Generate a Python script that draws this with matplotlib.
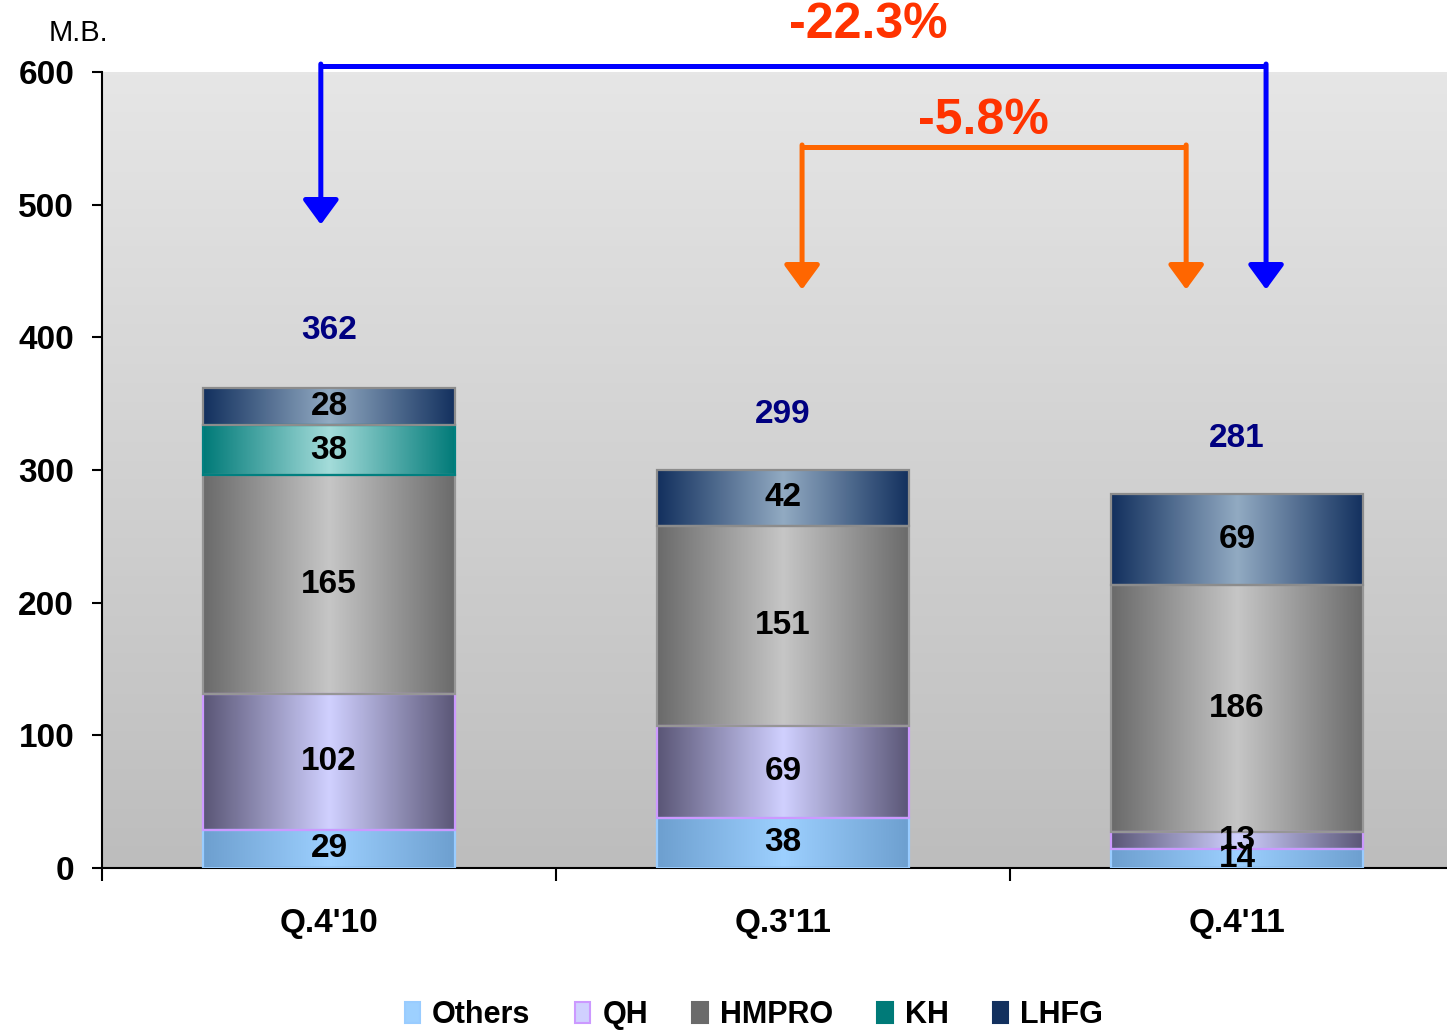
import numpy as np
import matplotlib
matplotlib.use('Agg')
import matplotlib.pyplot as plt
from matplotlib.colors import LinearSegmentedColormap
from matplotlib.patches import Patch

# ---------------- data ----------------
categories = ["Q.4'10", "Q.3'11", "Q.4'11"]
others = [29, 38, 14]
qh = [102, 69, 13]
hmpro = [165, 151, 186]
kh = [38, 0, 0]
lhfg = [28, 42, 69]
totals = [362, 299, 281]
series_names = ['Others', 'QH', 'HMPRO', 'KH', 'LHFG']
yticks = [0, 100, 200, 300, 400, 500, 600]
change_big = '-22.3%'
change_small = '-5.8%'
unit_label = 'M.B.'

plt.rcParams['font.family'] = ['Liberation Sans', 'DejaVu Sans']

styles = {
    'Others': dict(edge='#6d9fcf', center='#9dd0ff', line='#99ccff'),
    'QH':     dict(edge='#5a5676', center='#d0d0ff', line='#cc99ff'),
    'HMPRO':  dict(edge='#6a6a6a', center='#c6c6c6', line='#969696'),
    'KH':     dict(edge='#007a78', center='#a4dcda', line='#008080'),
    'LHFG':   dict(edge='#12305e', center='#92aac2', line='#8c8c8c'),
}

fig = plt.figure(figsize=(14.47, 10.30), dpi=100)
ax = fig.add_axes([102/1447, 162/1030, 1362/1447, 796/1030])

x = np.arange(len(categories))
width = 0.557

# background gradient
bg = LinearSegmentedColormap.from_list('bg', ['#bdbdbd', '#e6e6e6'])
ax.imshow(np.linspace(0, 1, 256).reshape(-1, 1), cmap=bg, origin='lower',
          extent=[-0.5, 2.5, 0, 600], aspect='auto', zorder=0)

values = [others, qh, hmpro, kh, lhfg]
bottom = np.zeros(len(categories))
grad = np.linspace(0, 1, 256).reshape(1, -1)
for name, vals in zip(series_names, values):
    st = styles[name]
    vals = np.array(vals, dtype=float)
    bars = ax.bar(x, vals, width, bottom=bottom, facecolor='none',
                  edgecolor=st['line'], linewidth=1.6, zorder=3)
    cmap = LinearSegmentedColormap.from_list(name, [st['edge'], st['center'], st['edge']])
    for rect, v, b, xi in zip(bars, vals, bottom, x):
        if v <= 0:
            rect.set_visible(False)
            continue
        im = ax.imshow(grad, cmap=cmap, extent=[xi - width/2, xi + width/2, b, b + v],
                       aspect='auto', zorder=2, interpolation='bilinear')
        im.set_clip_path(rect)
        ax.text(xi, b + v/2, f'{int(v)}', ha='center', va='center',
                fontsize=24, fontweight='bold', color='black', zorder=5)
    bottom = bottom + vals

for xi, t in zip(x, totals):
    ax.text(xi, t + 43, f'{t}', ha='center', va='center', fontsize=24,
            fontweight='bold', color='#000080', zorder=5)

ax.set_xlim(-0.5, 2.5)
ax.set_ylim(0, 600)

# axes style
for s in ['top', 'right']:
    ax.spines[s].set_visible(False)
ax.spines['left'].set_linewidth(1.5)
ax.spines['bottom'].set_linewidth(1.5)
ax.set_yticks(yticks)
ax.set_yticklabels([str(v) for v in yticks], fontsize=24, fontweight='bold')
ax.tick_params(axis='y', length=7, width=1.5, pad=13)
ax.set_xticks([-0.5, 0.5, 1.5])
ax.set_xticklabels([])
ax.tick_params(axis='x', which='major', length=9, width=1.5)
ax.set_xticks(x, minor=True)
ax.set_xticklabels(categories, minor=True, fontsize=24, fontweight='bold')
ax.tick_params(axis='x', which='minor', length=0, pad=29)

fig.text(78/1447, 1 - 33/1030, unit_label, ha='center', va='center', fontsize=21)

# change arrows
def bracket(x0, x1, ytop, tip0, tip1, color):
    ax.plot([x0, x1], [ytop, ytop], color=color, lw=3.6, clip_on=False,
            solid_capstyle='butt', zorder=6)
    for xx, tip in [(x0, tip0), (x1, tip1)]:
        ax.annotate('', xy=(xx, tip), xytext=(xx, ytop + 1.5), annotation_clip=False,
                    arrowprops=dict(arrowstyle='-|>,head_length=0.75,head_width=0.55',
                                    mutation_scale=20, lw=3.6, color=color,
                                    shrinkA=0, shrinkB=0), zorder=6)

bracket(-0.018, 2.064, 604.5, 485, 436, '#0000ff')
bracket(1.042, 1.888, 543.5, 436, 436, '#ff6600')

fig.text(868/1447, 1 - 25/1030, change_big, ha='center', va='center', fontsize=36,
         fontweight='bold', color='#ff3300')
fig.text(983/1447, 1 - 121/1030, change_small, ha='center', va='center', fontsize=36,
         fontweight='bold', color='#ff3300')

handles = []
for n in series_names:
    st = styles[n]
    handles.append(Patch(facecolor=st['center'] if n in ('Others', 'QH') else st['edge'],
                         edgecolor=st['line'] if n in ('Others', 'QH') else st['edge'], linewidth=1.5))
fig.legend(handles, series_names, loc='center', bbox_to_anchor=(754/1447, 15/1030),
           ncol=5, frameon=False, prop=dict(size=22, weight='bold'),
           handlelength=0.5, handleheight=0.7, handletextpad=0.4, columnspacing=1.45)

fig.savefig('out.png', dpi=100)
